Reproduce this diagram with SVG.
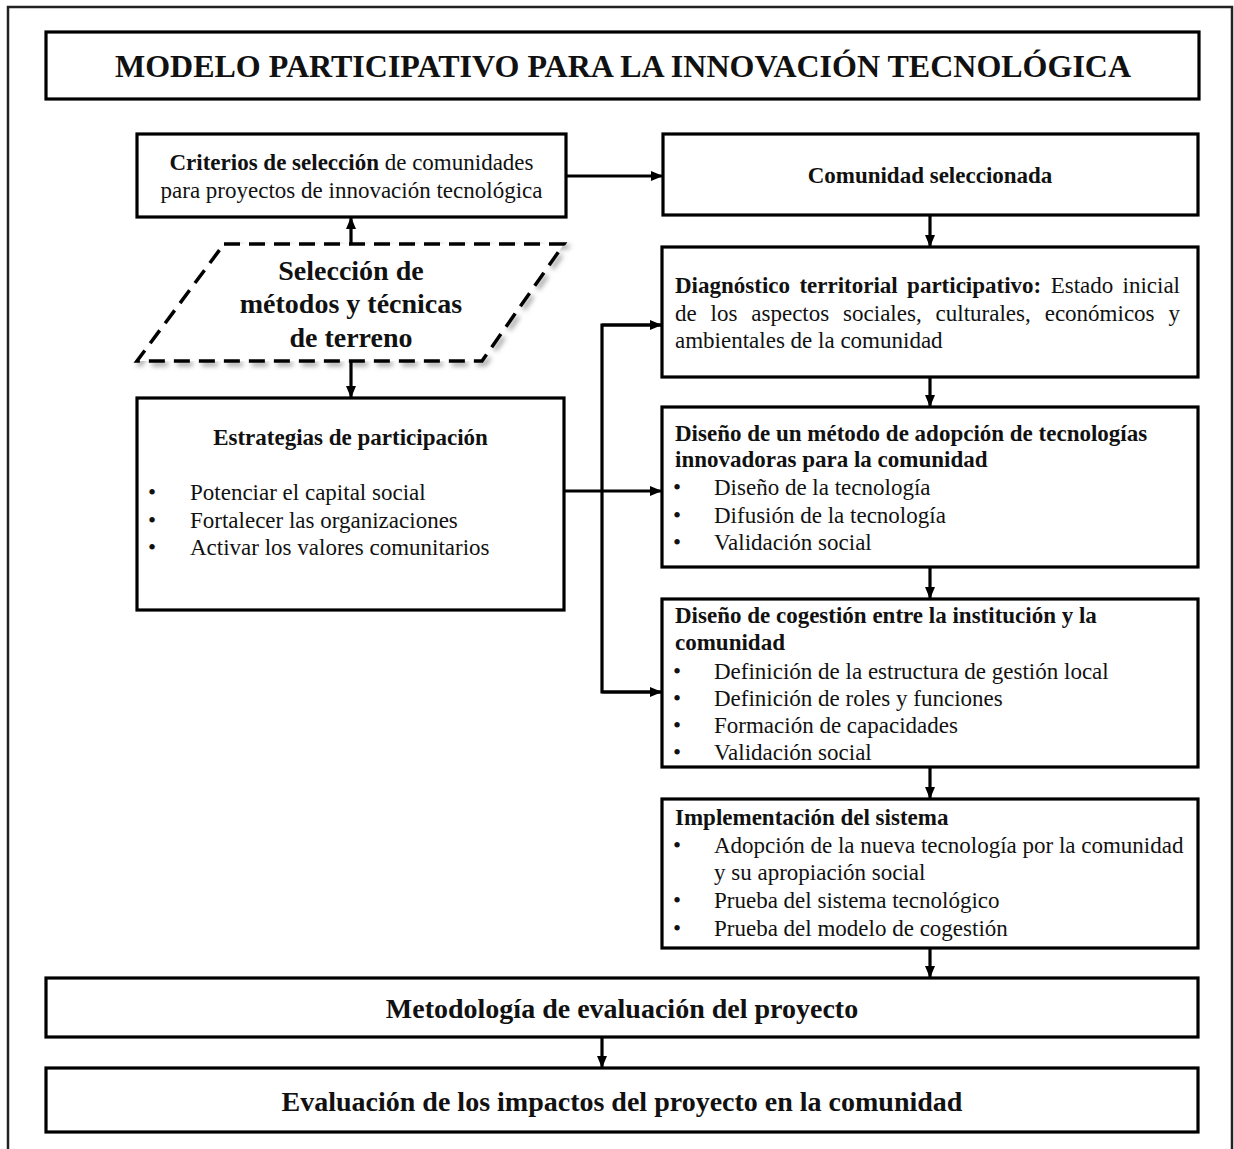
<svg xmlns="http://www.w3.org/2000/svg" width="1234" height="1149" viewBox="0 0 1234 1149">
<style>
.box{fill:#fff;stroke:#000;stroke-width:3.2}
.frame{fill:none;stroke:#222;stroke-width:2.5}
.t{font-family:"Liberation Serif","Times New Roman",serif;font-size:23px;fill:#111}
.b{font-weight:bold}
.c{text-anchor:middle}
.e{text-anchor:end}
.con{fill:none;stroke:#000;stroke-width:3.2}
</style>
<defs>
<marker id="ah" viewBox="0 0 12 10" markerWidth="12" markerHeight="10" refX="12" refY="5" orient="auto" markerUnits="userSpaceOnUse">
<path d="M0,0 L12,5 L0,10 z" fill="#000"/>
</marker>
<filter id="sh" x="-10%" y="-10%" width="120%" height="130%">
<feGaussianBlur stdDeviation="2.5"/>
</filter>
</defs>
<rect class="frame" x="8" y="7" width="1224" height="1160"/>

<g id="title">
<rect class="box" x="46" y="32" width="1153" height="67"/>
<text class="t b c" x="623" y="77" style="font-size:32px">MODELO PARTICIPATIVO PARA LA INNOVACIÓN TECNOLÓGICA</text>
</g>

<g id="criterios">
<rect class="box" x="137" y="134" width="429" height="83"/>
<text class="t c" x="351.5" y="170"><tspan class="b">Criterios de selección</tspan> de comunidades</text>
<text class="t c" x="351.5" y="198">para proyectos de innovación tecnológica</text>
</g>

<g id="comunidad">
<rect class="box" x="663" y="134" width="535" height="81"/>
<text class="t b c" x="930" y="183">Comunidad seleccionada</text>
</g>

<g id="seleccion">
<polygon points="227,247 567,247 485,364 140,364" fill="none" stroke="#999" stroke-width="4" stroke-dasharray="16,9" filter="url(#sh)"/>
<polygon points="224,244 564,244 482,361 137,361" fill="#fff" stroke="#000" stroke-width="3.5" stroke-dasharray="16,9"/>
<text class="t b c" x="351" y="280" style="font-size:28px">Selección de</text>
<text class="t b c" x="351" y="313" style="font-size:28px">métodos y técnicas</text>
<text class="t b c" x="351" y="347" style="font-size:28px">de terreno</text>
</g>

<g id="estrategias">
<rect class="box" x="137" y="398" width="427" height="212"/>
<text class="t b c" x="350.5" y="445">Estrategias de participación</text>
<text class="t" x="148" y="500">•</text><text class="t" x="190" y="500">Potenciar el capital social</text>
<text class="t" x="148" y="528">•</text><text class="t" x="190" y="528">Fortalecer las organizaciones</text>
<text class="t" x="148" y="555">•</text><text class="t" x="190" y="555">Activar los valores comunitarios</text>
</g>

<g id="diagnostico">
<rect class="box" x="662" y="247" width="536" height="130"/>
<text class="t b" y="293"><tspan x="675">Diagnóstico</tspan><tspan x="799.4">territorial</tspan><tspan x="907.1">participativo:</tspan></text>
<text class="t" y="293"><tspan x="1050.7">Estado</tspan></text>
<text class="t e" x="1180" y="293">inicial</text>
<text class="t" y="321"><tspan x="675">de</tspan><tspan x="710.6">los</tspan><tspan x="751.3">aspectos</tspan><tspan x="843.1">sociales,</tspan><tspan x="935.6">culturales,</tspan><tspan x="1044.7">económicos</tspan></text>
<text class="t e" x="1180" y="321">y</text>
<text class="t" x="675" y="348">ambientales de la comunidad</text>
</g>

<g id="metodo">
<rect class="box" x="662" y="407" width="536" height="160"/>
<text class="t b" x="675" y="441">Diseño de un método de adopción de tecnologías</text>
<text class="t b" x="675" y="467">innovadoras para la comunidad</text>
<text class="t" x="673" y="495">•</text><text class="t" x="714" y="495">Diseño de la tecnología</text>
<text class="t" x="673" y="523">•</text><text class="t" x="714" y="523">Difusión de la tecnología</text>
<text class="t" x="673" y="550">•</text><text class="t" x="714" y="550">Validación social</text>
</g>

<g id="cogestion">
<rect class="box" x="662" y="599" width="536" height="168"/>
<text class="t b" x="675" y="623">Diseño de cogestión entre la institución y la</text>
<text class="t b" x="675" y="650">comunidad</text>
<text class="t" x="673" y="679">•</text><text class="t" x="714" y="679">Definición de la estructura de gestión local</text>
<text class="t" x="673" y="706">•</text><text class="t" x="714" y="706">Definición de roles y funciones</text>
<text class="t" x="673" y="733">•</text><text class="t" x="714" y="733">Formación de capacidades</text>
<text class="t" x="673" y="760">•</text><text class="t" x="714" y="760">Validación social</text>
</g>

<g id="implementacion">
<rect class="box" x="662" y="799" width="536" height="149"/>
<text class="t b" x="675" y="825">Implementación del sistema</text>
<text class="t" x="673" y="853">•</text><text class="t" x="714" y="853">Adopción de la nueva tecnología por la comunidad</text>
<text class="t" x="714" y="880">y su apropiación social</text>
<text class="t" x="673" y="908">•</text><text class="t" x="714" y="908">Prueba del sistema tecnológico</text>
<text class="t" x="673" y="936">•</text><text class="t" x="714" y="936">Prueba del modelo de cogestión</text>
</g>

<g id="metodologia">
<rect class="box" x="46" y="978" width="1152" height="59"/>
<text class="t b c" x="622" y="1018" style="font-size:28px">Metodología de evaluación del proyecto</text>
</g>

<g id="evaluacion">
<rect class="box" x="46" y="1068" width="1152" height="64"/>
<text class="t b c" x="622" y="1111" style="font-size:28px">Evaluación de los impactos del proyecto en la comunidad</text>
</g>

<g id="connectors">
<line class="con" x1="566" y1="176" x2="663" y2="176" marker-end="url(#ah)"/>
<line class="con" x1="351" y1="244" x2="351" y2="217" marker-end="url(#ah)"/>
<line class="con" x1="351" y1="361" x2="351" y2="398" marker-end="url(#ah)"/>
<line class="con" x1="930" y1="215" x2="930" y2="247" marker-end="url(#ah)"/>
<line class="con" x1="930" y1="377" x2="930" y2="407" marker-end="url(#ah)"/>
<line class="con" x1="930" y1="567" x2="930" y2="599" marker-end="url(#ah)"/>
<line class="con" x1="930" y1="767" x2="930" y2="799" marker-end="url(#ah)"/>
<line class="con" x1="930" y1="948" x2="930" y2="978" marker-end="url(#ah)"/>
<line class="con" x1="602" y1="1037" x2="602" y2="1068" marker-end="url(#ah)"/>
<line class="con" x1="564" y1="491" x2="662" y2="491" marker-end="url(#ah)"/>
<polyline class="con" points="662,325 602,325 602,692 662,692"/>
<line class="con" x1="602" y1="325" x2="662" y2="325" marker-end="url(#ah)"/>
<line class="con" x1="602" y1="692" x2="662" y2="692" marker-end="url(#ah)"/>
</g>
</svg>
